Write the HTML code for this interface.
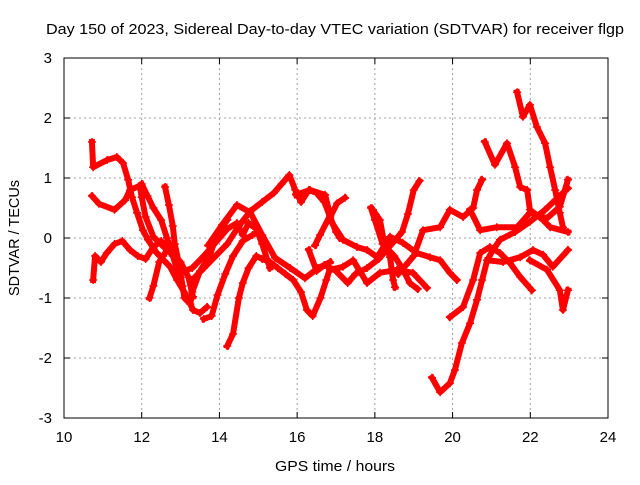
<!DOCTYPE html>
<html><head><meta charset="utf-8"><style>
body{margin:0;background:#fff}
svg text{font-family:"Liberation Sans",sans-serif;font-size:15px;fill:#000}
</style></head><body>
<svg id="chart" width="640" height="480" viewBox="0 0 640 480">
<text x="335" y="34" text-anchor="middle" textLength="578" lengthAdjust="spacingAndGlyphs">Day 150 of 2023, Sidereal Day-to-day VTEC variation (SDTVAR) for receiver flgp</text>
<text x="335" y="471" text-anchor="middle" textLength="120" lengthAdjust="spacingAndGlyphs">GPS time / hours</text>
<text transform="translate(19,238) rotate(-90)" text-anchor="middle" textLength="116" lengthAdjust="spacingAndGlyphs">SDTVAR / TECUs</text>
<g id="grid"></g><g id="ticks"></g><g id="marks"></g>
<rect x="64" y="58" width="544" height="360" fill="none" stroke="#000" stroke-width="1"/>
</svg>
<script>
const xTicks=[10,12,14,16,18,20,22,24];
const yTicks=[-3,-2,-1,0,1,2,3];
const s1=[[10.72,1.6],[10.75,1.18],[11.11,1.3],[11.36,1.35],[11.52,1.25],[11.65,0.97],[11.75,0.68],[11.88,0.42],[12.03,0.13],[12.16,-0.03],[12.39,-0.25],[12.73,-0.48],[12.91,-0.7],[13.17,-0.98],[13.32,-1.2],[13.5,-1.25],[13.68,-1.15]];
const s2=[[10.72,0.7],[10.9,0.57],[11.3,0.47],[11.57,0.63],[11.7,0.8],[11.95,0.87],[12.0,0.68],[12.1,0.35],[12.3,0.02],[12.65,-0.2],[13.0,-0.4],[13.2,-0.65],[13.32,-0.98]];
const s3=[[12.0,0.9],[12.15,0.7],[12.3,0.5],[12.5,0.3],[12.65,0.0],[12.8,-0.3],[12.9,-0.5],[13.0,-0.7]];
const s4=[[12.6,0.85],[12.7,0.55],[12.8,0.2],[12.85,-0.1],[12.95,-0.4],[13.05,-0.8],[13.1,-1.0],[13.25,-1.1],[13.3,-0.9],[13.5,-0.55],[13.75,-0.3],[13.9,0.0],[14.05,0.15],[14.2,0.3]];
const s5=[[10.75,-0.7],[10.8,-0.3],[10.95,-0.4],[11.1,-0.25],[11.3,-0.1],[11.5,-0.05],[11.7,-0.2],[11.9,-0.3],[12.1,-0.35],[12.3,-0.15],[12.5,-0.05],[12.7,-0.2],[12.9,-0.4],[13.1,-0.55],[13.3,-0.5],[13.6,-0.3],[13.8,-0.15],[14.0,0.0],[14.2,0.15],[14.45,0.25],[14.6,0.05],[14.75,0.25],[14.95,0.15],[15.1,-0.1],[15.3,-0.5]];
const s6=[[12.2,-1.0],[12.3,-0.8],[12.45,-0.4],[12.55,-0.3],[12.7,-0.15]];
const s7=[[13.3,-0.7],[13.6,-0.5],[13.9,-0.3],[14.2,-0.1],[14.5,0.2],[14.8,0.45],[15.1,0.6],[15.4,0.75],[15.6,0.9],[15.8,1.05],[15.95,0.8],[16.1,0.6],[16.3,0.8],[16.5,0.75],[16.7,0.6],[16.85,0.35],[17.0,0.1],[17.1,0.0]];
const s8=[[14.2,-1.8],[14.35,-1.6],[14.5,-1.0],[14.6,-0.75],[14.75,-0.5],[14.95,-0.3],[15.1,-0.35],[15.3,-0.4],[15.5,-0.5],[15.7,-0.6],[15.9,-0.7],[16.1,-0.9],[16.25,-1.2],[16.4,-1.3],[16.6,-1.0],[16.75,-0.7],[16.85,-0.5]];
const s9=[[13.6,-1.35],[13.8,-1.3],[13.95,-0.95],[14.15,-0.6],[14.35,-0.3],[14.6,-0.05],[14.85,0.05],[15.0,0.1]];
const s10=[[16.3,-0.2],[16.5,-0.55],[16.7,-0.45],[17.0,-0.55],[17.3,-0.75],[17.5,-0.6],[17.8,-0.5],[18.1,-0.35],[18.3,-0.2],[18.5,-0.05],[18.7,0.1],[18.85,0.4],[19.0,0.8],[19.15,0.95]];
const s12=[[17.9,0.5],[18.0,0.3],[18.2,-0.1],[18.5,-0.3],[18.7,-0.5],[18.9,-0.75],[19.1,-0.85]];
const s13=[[18.6,-0.6],[18.8,-0.45],[19.0,-0.3],[19.24,0.13],[19.68,0.18],[19.93,0.47],[20.27,0.35],[20.53,0.5],[20.63,0.8],[20.76,0.97]];
const s14=[[20.45,0.47],[20.71,0.13],[21.14,0.18],[21.66,0.18],[21.99,0.42],[22.43,0.33],[22.76,0.52],[22.97,0.97]];
const s15=[[20.83,1.6],[21.09,1.22],[21.4,1.58],[21.61,1.18],[21.74,0.85],[21.92,0.8],[21.99,0.47],[22.33,0.3],[22.51,0.18],[22.97,0.1]];
const s16=[[21.66,2.43],[21.81,2.02],[21.99,2.22],[22.17,1.85],[22.38,1.58],[22.51,1.18],[22.64,0.8],[22.76,0.42],[22.84,0.18]];
const s17=[[21.99,-0.37],[22.43,-0.53],[22.76,-0.87],[22.84,-1.2],[22.97,-0.87]];
const s18=[[19.47,-2.33],[19.68,-2.57],[19.93,-2.42],[20.06,-2.2],[20.24,-1.75],[20.45,-1.42],[20.63,-1.03],[20.76,-0.7],[20.89,-0.37],[21.04,-0.2],[21.22,-0.03],[21.61,0.1],[21.99,0.27],[22.38,0.47],[22.64,0.63],[22.97,0.83]];
const s19=[[19.93,-1.32],[20.27,-1.15],[20.53,-0.7],[20.71,-0.25],[20.96,-0.15],[21.22,-0.25],[21.48,-0.42],[21.74,-0.65],[22.04,-0.87]];
const s20=[[20.89,-0.37],[21.3,-0.4],[21.74,-0.32],[22.07,-0.2],[22.33,-0.28],[22.58,-0.48],[22.97,-0.2]];
const s21=[[16.85,0.3],[17.18,-0.03],[17.54,-0.15],[17.8,-0.2],[18.06,-0.32],[18.39,0.02],[18.72,-0.08],[19.08,-0.25],[19.42,-0.32],[19.68,-0.37],[19.93,-0.58],[20.11,-0.7]];
const s22=[[17.95,0.47],[18.13,0.3],[18.21,0.02],[18.39,-0.32],[18.47,-0.7],[18.52,-0.82]];
const s23=[[16.85,-0.53],[17.18,-0.48],[17.44,-0.37],[17.8,-0.75],[18.13,-0.58],[18.57,-0.53],[18.98,-0.58],[19.34,-0.83]];
const s24=[[16.85,0.35],[17.03,0.58],[17.23,0.67]];
const s25=[[13.71,-0.12],[14.07,0.22],[14.45,0.55],[14.79,0.43],[15.1,0.05],[15.43,-0.33],[15.82,-0.5],[16.2,-0.67],[16.54,-0.5],[16.85,-0.4]];
const s26=[[15.97,0.72],[16.33,0.8],[16.72,0.72],[16.85,0.38],[16.59,0.05],[16.46,-0.12]];
const series=[s1,s2,s3,s4,s5,s6,s7,s8,s9,s10,s12,s13,s14,s15,s16,s17,s18,s19,s20,s21,s22,s23,s24,s25,s26];

const X0=64,X1=608,Y0=418,Y1=58;
const xs=t=>X0+(t-10)/(24-10)*(X1-X0);
const ys=v=>Y0-(v+3)/6*(Y0-Y1);
const NS="http://www.w3.org/2000/svg";
const grid=document.getElementById('grid'),ticks=document.getElementById('ticks'),marks=document.getElementById('marks');
function mk(tag,attrs,parent){const e=document.createElementNS(NS,tag);for(const k in attrs)e.setAttribute(k,attrs[k]);parent.appendChild(e);return e;}
xTicks.forEach(t=>{const x=xs(t);
 if(t>10&&t<24){const g=mk('line',{x1:x,x2:x,y1:Y1,y2:Y0,stroke:'#a0a0a0','stroke-dasharray':'2,3'},grid);
 
 }
 mk('line',{x1:x,x2:x,y1:Y0,y2:Y0-6,stroke:'#000'},ticks);
 mk('line',{x1:x,x2:x,y1:Y1,y2:Y1+6,stroke:'#000'},ticks);
 const l=mk('text',{x:x,y:442,'text-anchor':'middle'},ticks);l.textContent=t;
 
 });
yTicks.forEach(v=>{const y=ys(v);
 if(v>-3&&v<3){const g=mk('line',{x1:X0,x2:X1,y1:y,y2:y,stroke:'#a0a0a0','stroke-dasharray':'2,3'},grid);
 
 }
 mk('line',{x1:X0,x2:X0+6,y1:y,y2:y,stroke:'#000'},ticks);
 mk('line',{x1:X1,x2:X1-6,y1:y,y2:y,stroke:'#000'},ticks);
 const l=mk('text',{x:52,y:y+5,'text-anchor':'end'},ticks);l.textContent=v;
 
 });
series.forEach((s,i)=>{
 const p=mk('polyline',{points:s.map(d=>xs(d[0])+','+ys(d[1])).join(' '),fill:'none',stroke:'#ff0000','stroke-width':6,'stroke-linejoin':'round','stroke-linecap':'square'},marks);
 
 
 s.forEach(d=>{const x=xs(d[0]),y=ys(d[1]);
  const m=mk('path',{d:`M${x-4},${y}H${x+4}M${x},${y-4}V${y+4}`,stroke:'#ff0000','stroke-width':1.5},marks);
  
  });
});
</script>
</body></html>
